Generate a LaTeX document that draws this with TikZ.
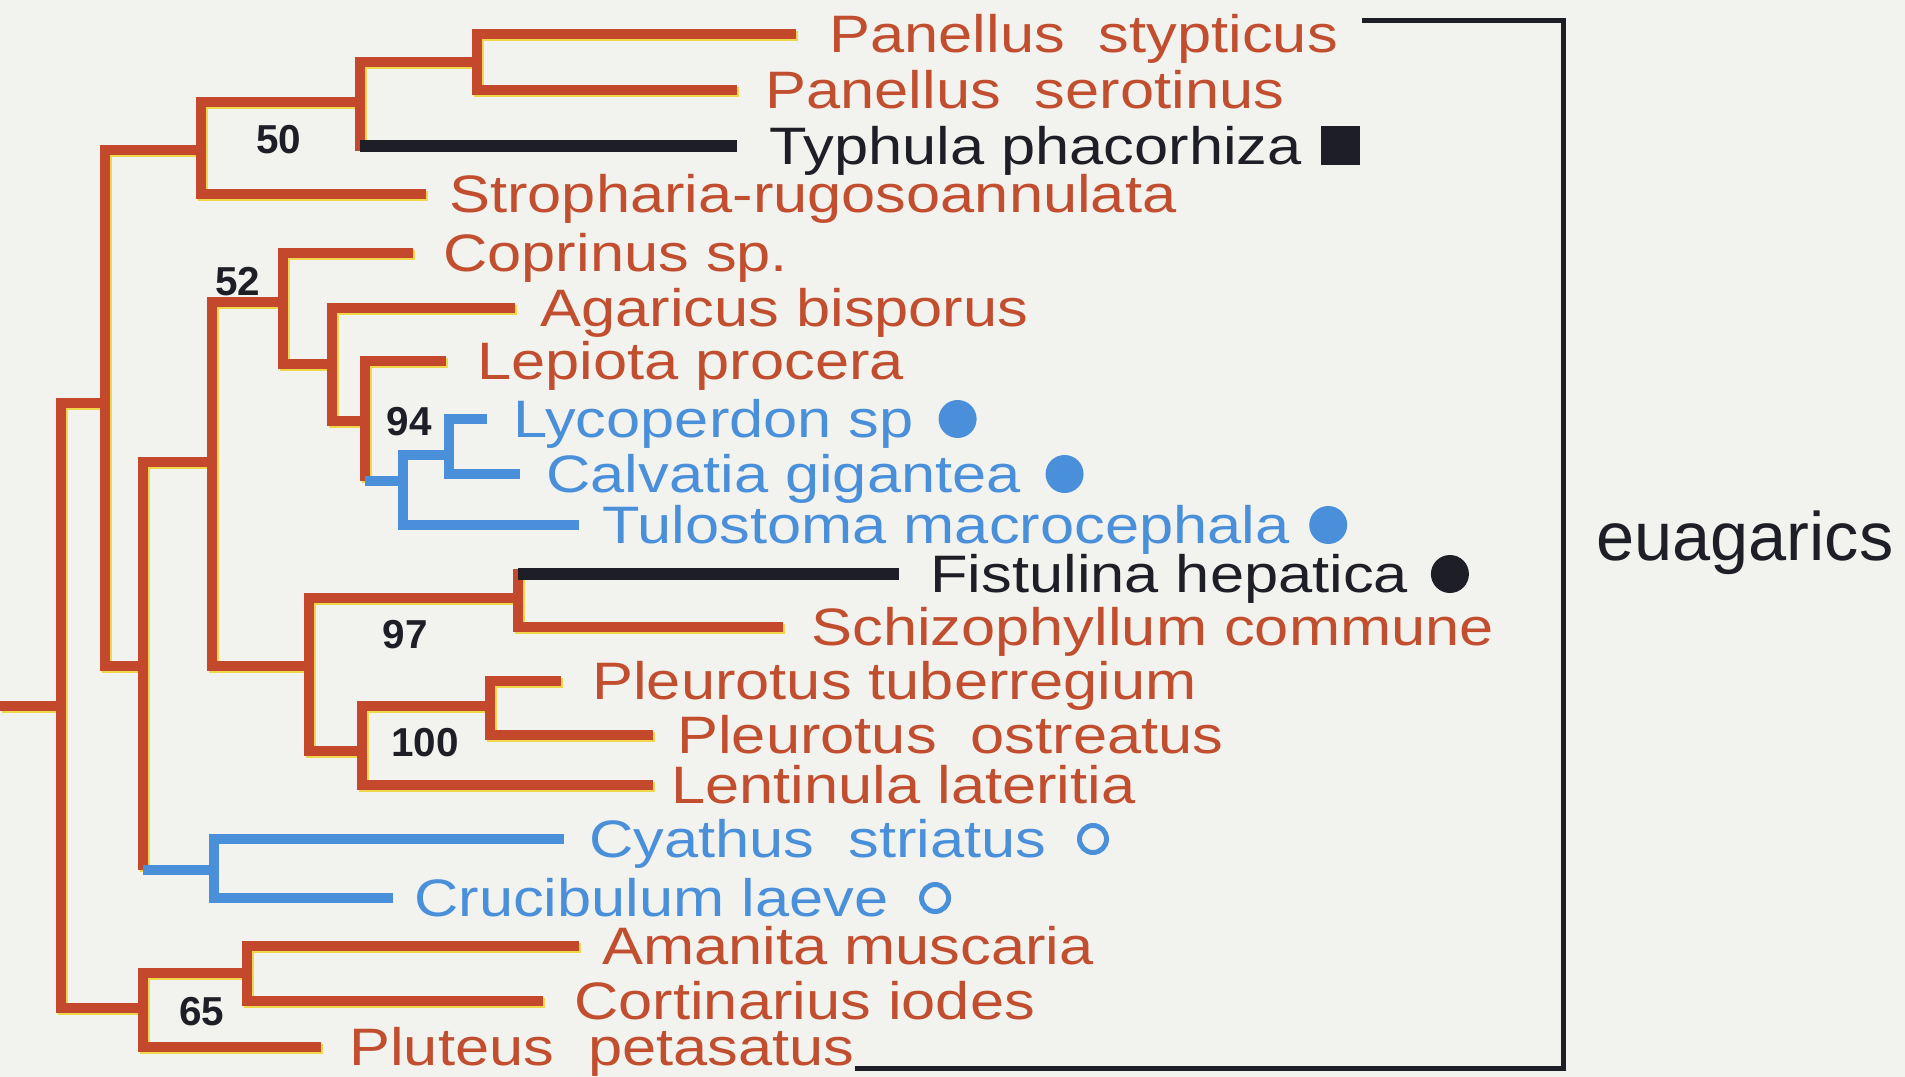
\documentclass[tikz,border=0pt]{standalone}
\usepackage{fontspec}
\newfontfamily\labfont[FakeStretch=1.165]{Liberation Sans}
\newfontfamily\numfont{Liberation Sans}
\definecolor{paper}{HTML}{F2F3EE}
\definecolor{rust}{HTML}{C4482C}
\definecolor{rusttext}{HTML}{C24E30}
\definecolor{sky}{HTML}{4A8FDA}
\definecolor{ink}{HTML}{1E1E26}
\definecolor{halo}{HTML}{F0D64A}
\usetikzlibrary{positioning,calc}
\tikzset{
  br/.style={draw=rust,line width=0.2cm,preaction={draw=halo,line width=0.2cm,transform canvas={xshift=0.04cm,yshift=-0.04cm}}},
  bl/.style={draw=sky,line width=0.19cm},
  bk/.style={draw=ink,line width=0.24cm},
  taxon/.style={anchor=west,inner sep=0pt,font=\labfont\fontsize{30}{34}\selectfont,text height=21.5pt,text depth=0pt},
  boot/.style={inner sep=0pt,text=ink,font=\numfont\bfseries\fontsize{23}{26}\selectfont,text height=16.5pt,text depth=0pt},
  dotmark/.style={circle,fill=#1,inner sep=0pt,minimum size=0.76cm},
  ringmark/.style={circle,draw=sky,line width=0.1cm,inner sep=0pt,minimum size=0.54cm},
  sqmark/.style={fill=ink,inner sep=0pt,minimum size=0.78cm},
  bracket/.style={draw=ink,line width=0.1cm}
}
\begin{document}
\begin{tikzpicture}[x=0.02cm,y=-0.02cm]
\fill[paper] (0,0) rectangle (1905,1077);
\useasboundingbox (0,0) rectangle (1905,1077);
% inner nodes of the tree
\foreach \n/\x/\y in {rt/61/706,nB/105/403,nC/201/150,nD/360/102,nE/477/62,nF/143/666,nG/212/462,nH/283/302,nI/332/364,nJ/365/421,nK/403/481,nKK/449/455,nL/309/666,nLa/518/598,nLb/362/751,nLc/490/706,nR/214/870,nM/143/1008,nN/247/973}{\coordinate (\n) at (\x,\y);}
\coordinate (base) at (0,706);
% taxa
\foreach \n/\x/\y/\c/\t in {psty/829/34/rusttext/Panellus\ \ stypticus,pser/765/90/rusttext/Panellus\ \ serotinus,typh/769/146/ink/Typhula phacorhiza,stro/449/194/rusttext/Stropharia-rugosoannulata,copr/443/253/rusttext/Coprinus sp.,agar/540/308/rusttext/Agaricus bisporus,lepi/477/361/rusttext/Lepiota procera,lyco/513/419/sky/Lycoperdon sp,calv/546/474/sky/Calvatia gigantea,tulo/602/525/sky/Tulostoma macrocephala,fist/930/574/ink/Fistulina hepatica,schi/811/627/rusttext/Schizophyllum commune,ptub/592/681/rusttext/Pleurotus tuberregium,post/677/735/rusttext/Pleurotus\ \ ostreatus,lent/671/785/rusttext/Lentinula lateritia,cyat/589/839/sky/Cyathus\ \ striatus,cruc/414/898/sky/Crucibulum laeve,aman/602/946/rusttext/Amanita muscaria,cort/574/1001/rusttext/Cortinarius iodes,plut/349/1047/rusttext/Pluteus\ \ petasatus}{\node[taxon,text=\c] (\n) at (\x,\y) {\t};}
% branches
\draw[br] (base) -- (rt);
\foreach \p/\c/\g in {rt/nB/0,rt/nM/0,nB/nC/0,nB/nF/0,nC/nD/0,nC/stro/23,nD/nE/0,nE/psty/33,nE/pser/28,nF/nG/0,nG/nH/0,nG/nL/0,nH/copr/30,nH/nI/0,nI/agar/25,nI/nJ/0,nJ/lepi/31,nL/nLa/0,nL/nLb/0,nLa/schi/28,nLb/nLc/0,nLb/lent/18,nLc/ptub/31,nLc/post/24,nM/nN/0,nM/plut/28,nN/aman/23,nN/cort/31}{\draw[br,shorten >=\g*0.02cm] (\p) |- (\c);}
\foreach \p/\c/\g in {nK/nKK/0,nK/tulo/23,nKK/lyco/26,nKK/calv/26,nR/cyat/25,nR/cruc/21}{\draw[bl,shorten >=\g*0.02cm] (\p) |- (\c);}
\draw[br,line cap=rect] (nD) -- (nD |- typh);
\draw[bk,shorten >=32*0.02cm] (nD |- typh) -- (typh);
\draw[br,line cap=rect] (nLa) -- (nLa |- fist);
\draw[bk,shorten >=31*0.02cm] (nLa |- fist) -- (fist);
\draw[br] (nJ) -- (nJ |- nK);
\draw[bl] (nJ |- nK) -- (nK);
\draw[br] (nF) -- (nF |- nR);
\draw[bl] (nF |- nR) -- (nR);
% markers
\node[sqmark,right=0.36cm of typh] (typhm) {};
\node[dotmark=sky,right=0.48cm of lyco] (lycom) {};
\node[dotmark=sky,right=0.48cm of calv] (calvm) {};
\node[dotmark=sky,right=0.38cm of tulo] (tulom) {};
\node[dotmark=ink,right=0.44cm of fist] (fistm) {};
\node[ringmark,right=0.6cm of cyat] (cyatm) {};
\node[ringmark,right=0.6cm of cruc] (crucm) {};
% bootstrap values
\foreach \n/\x/\y/\v in {b50/279/139/50,b52/238/281/52,b94/409/421/94,b97/405/634/97,b100/425/742/100,b65/202/1011/65}{\node[boot] (\n) at (\x,\y) {\v};}
% clade bracket
\coordinate (btop) at (1563,21);
\coordinate (bbot) at (1563,1068);
\draw[bracket,shorten <=0.48cm] (psty.east |- btop) -- (btop) -- (bbot) -- (plut.east |- bbot);
\node[anchor=west,inner sep=0pt,text=ink,font=\numfont\fontsize{39}{44}\selectfont,text height=20pt,text depth=0pt] (euag) at (1596,543) {euagarics};
\end{tikzpicture}
\end{document}
